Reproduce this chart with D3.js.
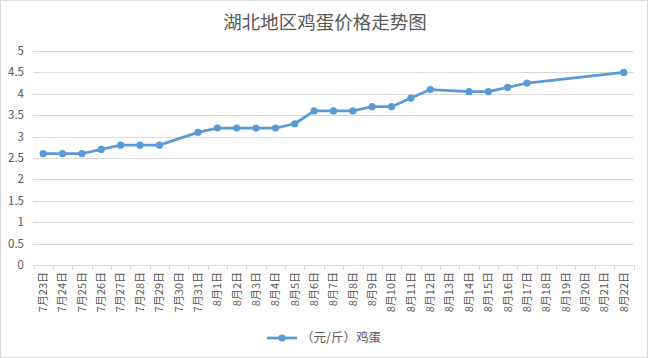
<!DOCTYPE html>
<html><head><meta charset="utf-8">
<script src="https://cdn.jsdelivr.net/npm/d3@7"></script>
<style>body{margin:0;background:#fff;}svg{display:block;font-family:"Noto Sans CJK SC","Noto Sans",sans-serif;}</style>
</head><body>
<script>
const categories = ["7月23日","7月24日","7月25日","7月26日","7月27日","7月28日","7月29日","7月30日","7月31日",
"8月1日","8月2日","8月3日","8月4日","8月5日","8月6日","8月7日","8月8日","8月9日","8月10日","8月11日","8月12日",
"8月13日","8月14日","8月15日","8月16日","8月17日","8月18日","8月19日","8月20日","8月21日","8月22日"];
const prices = [2.6,2.6,2.6,2.7,2.8,2.8,2.8,null,3.1,
3.2,3.2,3.2,3.2,3.3,3.6,3.6,3.6,3.7,3.7,3.9,4.1,
null,4.05,4.05,4.15,4.25,null,null,null,null,4.5];
const yTicks = [0,0.5,1,1.5,2,2.5,3,3.5,4,4.5,5];
const seriesName = "（元/斤）鸡蛋";
const title = "湖北地区鸡蛋价格走势图";

(function(){
const W=650,H=358;
const svg=d3.select("body").append("svg").attr("width",W).attr("height",H);
svg.append("rect").attr("x",0.5).attr("y",0.5).attr("width",W-3).attr("height",H-1).attr("fill","#fff").attr("stroke","#d9d9d9");

const pl=33.5,pr=633.5,pt=51,pb=265;
const x=d3.scaleBand().domain(categories).range([pl,pr]);
const y=d3.scaleLinear().domain([0,5]).range([pb,pt]);

svg.append("text").attr("x",W/2).attr("y",29).attr("text-anchor","middle")
  .attr("font-size",18.5).attr("fill","#595959").text(title);

svg.append("g").selectAll("line").data(yTicks.filter(d=>d>0)).join("line")
  .attr("x1",pl).attr("x2",pr).attr("y1",d=>Math.round(y(d))+0.5).attr("y2",d=>Math.round(y(d))+0.5)
  .attr("stroke","#d9d9d9").attr("stroke-width",1);

svg.append("g").selectAll("text").data(yTicks).join("text")
  .attr("x",24).attr("y",d=>y(d)).attr("dy","0.35em").attr("text-anchor","end")
  .attr("font-size",11.5).attr("fill","#595959").text(d=>d);

svg.append("line").attr("x1",pl).attr("x2",pr).attr("y1",pb+0.5).attr("y2",pb+0.5).attr("stroke","#d9d9d9");
const bounds=categories.map(c=>x(c)).concat([pr]);
svg.append("g").selectAll("line").data(bounds).join("line")
  .attr("x1",d=>Math.round(d)+0.5).attr("x2",d=>Math.round(d)+0.5).attr("y1",pb).attr("y2",pb+5)
  .attr("stroke","#d9d9d9");
svg.append("g").selectAll("text").data(categories).join("text")
  .attr("transform",d=>`translate(${x(d)+x.bandwidth()/2},272) rotate(-90)`)
  .attr("dy","0.35em").attr("text-anchor","end").attr("font-size",11).attr("fill","#595959").text(d=>d);

const pts=categories.map((c,i)=>({c,v:prices[i]})).filter(d=>d.v!=null);
const line=d3.line().x(d=>x(d.c)+x.bandwidth()/2).y(d=>y(d.v));
svg.append("path").datum(pts).attr("d",line).attr("fill","none").attr("stroke","#5b9bd5").attr("stroke-width",2.75).attr("stroke-linejoin","round");
svg.append("g").selectAll("circle").data(pts).join("circle")
  .attr("cx",d=>x(d.c)+x.bandwidth()/2).attr("cy",d=>y(d.v)).attr("r",3.6).attr("fill","#5b9bd5");

svg.append("line").attr("x1",267).attr("x2",297).attr("y1",338).attr("y2",338).attr("stroke","#5b9bd5").attr("stroke-width",2.75);
svg.append("circle").attr("cx",282).attr("cy",338).attr("r",3.6).attr("fill","#5b9bd5");
svg.append("text").attr("x",301).attr("y",338).attr("dy","0.35em").attr("font-size",12.5).attr("fill","#595959").text(seriesName);
})();
</script>
</body></html>
